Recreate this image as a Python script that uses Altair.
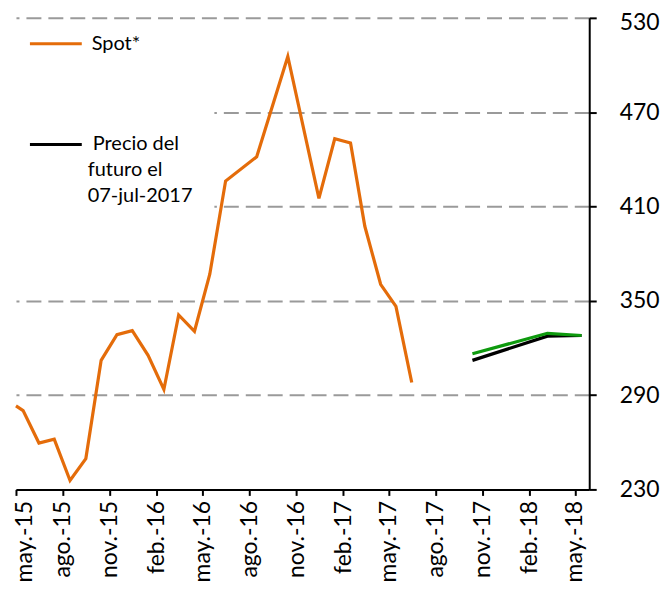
import altair as alt
import pandas as pd

# ---- data ----
SPOT_DATES = [
    "2015-05-01", "2015-05-15", "2015-06-15", "2015-07-15", "2015-08-15",
    "2015-09-15", "2015-10-15", "2015-11-15", "2015-12-15", "2016-01-15",
    "2016-02-15", "2016-03-15", "2016-04-15", "2016-05-15", "2016-06-15",
    "2016-08-15", "2016-10-15", "2016-12-15", "2017-01-15", "2017-02-15",
    "2017-03-15", "2017-04-15", "2017-05-15", "2017-06-15",
]
SPOT_VALUES = [
    283.1, 280.1, 259.5, 262.0, 235.7,
    249.6, 312.1, 328.5, 331.0, 315.3,
    293.6, 341.0, 330.6, 366.9, 426.2,
    441.6, 505.4, 415.2, 453.1, 450.4,
    397.4, 360.5, 346.4, 298.0,
]
FUT_DATES = ["2017-10-12", "2018-03-08", "2018-05-14"]
FUT_BLACK = [312.1, 327.5, 327.9]
FUT_GREEN = [316.3, 329.3, 327.9]

Y_TICKS = [230, 290, 350, 410, 470, 530]
X_TICK_MONTHS = [(2015, 5), (2015, 8), (2015, 11), (2016, 2), (2016, 5), (2016, 8),
                 (2016, 11), (2017, 2), (2017, 5), (2017, 8), (2017, 11), (2018, 2),
                 (2018, 5)]
MONTHS_ES = ["ene.", "feb.", "mar.", "abr.", "may.", "jun.", "jul.", "ago.",
             "sep.", "oct.", "nov.", "dic."]
LEGEND_SPOT = "Spot*"
LEGEND_FUT = ["Precio del", "futuro el", "07-jul-2017"]

ORANGE = "#E46C0A"
GREEN = "#0E9A0E"
FONT = "Lato"

spot_df = pd.DataFrame({"date": SPOT_DATES, "value": SPOT_VALUES})
black_df = pd.DataFrame({"date": FUT_DATES, "value": FUT_BLACK})
green_df = pd.DataFrame({"date": FUT_DATES, "value": FUT_GREEN})

month_arr = "[" + ",".join("'%s'" % m for m in MONTHS_ES) + "]"
label_expr = month_arr + "[utcmonth(datum.value)] + '-' + utcFormat(datum.value, '%y')"

x_enc = alt.X(
    "date:T",
    scale=alt.Scale(type="utc",
                    domain=[alt.DateTime(year=2015, month=5, date=1, utc=True),
                            alt.DateTime(year=2018, month=5, date=29, utc=True)]),
    axis=alt.Axis(
        values=[alt.DateTime(year=y, month=m, date=1, utc=True) for y, m in X_TICK_MONTHS],
        labelExpr=label_expr, labelAngle=270, labelAlign="right", labelBaseline="middle",
        labelFont=FONT, labelFontSize=23, labelColor="black", labelPadding=5,
        labelOffset=alt.condition("datum.index == 0", alt.value(9), alt.value(0)),
        domainColor="black", domainWidth=2, tickColor="black", tickWidth=2, tickSize=6,
        grid=False, title=None, labelOverlap=False,
    ),
)
y_enc = alt.Y(
    "value:Q",
    scale=alt.Scale(domain=[230, 530], nice=False, zero=False),
    axis=alt.Axis(
        orient="right", values=Y_TICKS, grid=True, gridDash=[15, 7],
        gridColor="#9A9A9A", gridWidth=2,
        labelFont=FONT, labelFontSize=23, labelColor="black", labelPadding=23,
        labelOffset=alt.condition("datum.value >= 530", alt.value(5), alt.value(0)),
        domainColor="black", domainWidth=2, tickColor="black", tickWidth=2, tickSize=7,
        title=None,
    ),
)

blank = alt.Data(values=[{}])

cover = alt.Chart(blank).mark_rect(color="white").encode(
    x=alt.value(-8), x2=alt.value(199), y=alt.value(8), y2=alt.value(196)
)

spot = alt.Chart(spot_df).mark_line(color=ORANGE, strokeWidth=3.2).encode(x=x_enc, y=y_enc)
black = alt.Chart(black_df).mark_line(color="black", strokeWidth=3.2).encode(x="date:T", y="value:Q")
green = alt.Chart(green_df).mark_line(color=GREEN, strokeWidth=3.2).encode(x="date:T", y="value:Q")

leg_spot_line = alt.Chart(blank).mark_rule(color=ORANGE, strokeWidth=3).encode(
    x=alt.value(14), x2=alt.value(66), y=alt.value(26))
leg_fut_line = alt.Chart(blank).mark_rule(color="black", strokeWidth=3).encode(
    x=alt.value(14), x2=alt.value(66), y=alt.value(127))

txt_style = dict(font=FONT, fontSize=20, color="black", align="left", baseline="middle")
leg_spot_txt = alt.Chart(blank).mark_text(text=LEGEND_SPOT, **txt_style).encode(
    x=alt.value(76), y=alt.value(26))
leg_f1 = alt.Chart(blank).mark_text(text=LEGEND_FUT[0], **txt_style).encode(
    x=alt.value(77), y=alt.value(127))
leg_f2 = alt.Chart(blank).mark_text(text=LEGEND_FUT[1], **txt_style).encode(
    x=alt.value(72), y=alt.value(153))
leg_f3 = alt.Chart(blank).mark_text(text=LEGEND_FUT[2], **txt_style).encode(
    x=alt.value(72), y=alt.value(179))

chart = alt.layer(
    cover, spot, black, green, leg_spot_line, leg_fut_line,
    leg_spot_txt, leg_f1, leg_f2, leg_f3,
).properties(
    width=575, height=473,
    autosize=alt.AutoSizeParams(type="none"),
    padding={"left": 8, "top": 9, "right": 75, "bottom": 98},
).configure(background="white").configure_view(stroke=None)

chart.save("out.html", embed_options={"renderer": "svg", "actions": False})
